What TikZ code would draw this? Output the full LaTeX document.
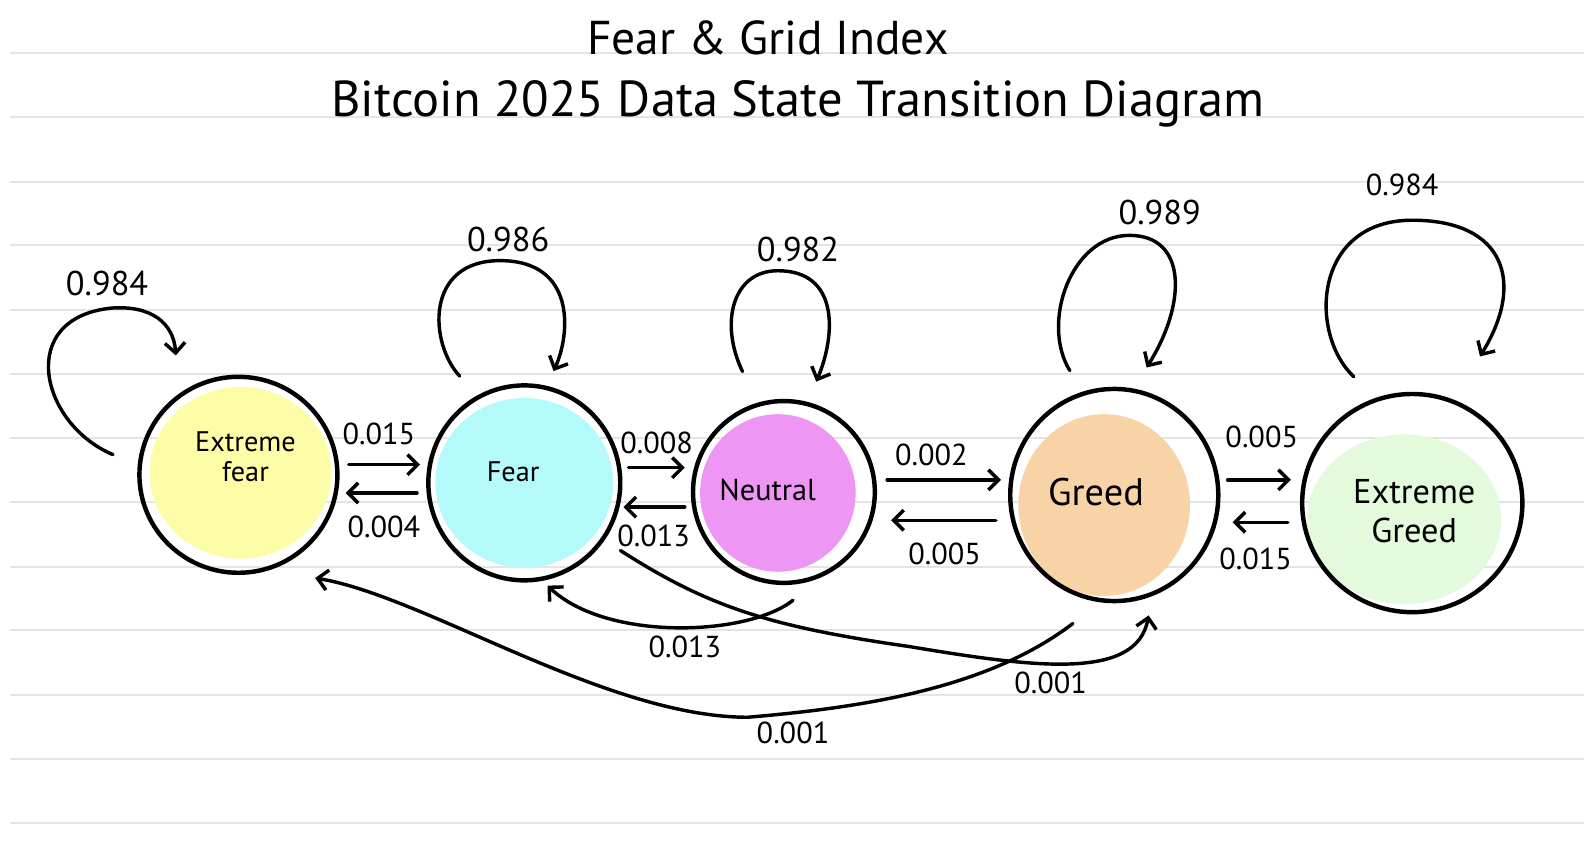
\documentclass[tikz,border=0pt]{standalone}
\usepackage{fontspec}
\setmainfont{PT Sans}
\usetikzlibrary{arrows.meta,shapes.geometric,calc}
\definecolor{ruleGray}{RGB}{228,228,228}
\definecolor{cEF}{HTML}{FDFDA8}
\definecolor{cF}{HTML}{B4FAFA}
\definecolor{cN}{HTML}{EE96F4}
\definecolor{cG}{HTML}{F7D3A5}
\definecolor{cEG}{HTML}{E3FBDC}
\begin{document}
\begin{tikzpicture}[x=0.5pt,y=-0.5pt,
  state/.style={ellipse, draw=black, line width=2.2pt, inner sep=0pt},
  blob/.style n args={5}{path picture={\fill[#1] ([shift={(#2,#3)}]path picture bounding box.center) ellipse [x radius=#4, y radius=#5];}},
  arr/.style={line width=1.7pt, line cap=round, -{Straight Barb[length=5pt,width=10pt,line width=1.7pt]}},
  lbl/.style={font=\fontsize{15}{18}\selectfont, inner sep=1pt},
  slbl/.style={font=\fontsize{17}{20}\selectfont, inner sep=1pt},
  ntext/.style={align=center, inner sep=0pt},
  rule/.style={draw=ruleGray, line width=1pt}]
\useasboundingbox[fill=white] (0,0) rectangle (1568,833);
\foreach \yy in {52,116,180,243,307,370,434,497,561,624,688,751,815}
  \draw[rule] (10,\yy) -- (1568,\yy);

% titles
\node[font=\fontsize{23.5}{26}\selectfont] (t1) at (760,38) {Fear \& Grid Index};
\node[font=\fontsize{25}{28}\selectfont] (t2) at (790,103) {Bitcoin 2025 Data State Transition Diagram};

% states
\node[state, minimum width=98pt, minimum height=97pt, blob={cEF}{2}{-2}{90}{85}] (ef) at (236,470) {};
\node[state, minimum width=95pt, minimum height=96.5pt, blob={cF}{0}{0}{88}{84}] (f) at (519,478) {};
\node[state, minimum width=90pt, minimum height=90pt, blob={cN}{-6}{1}{77}{78}] (n) at (776,487) {};
\node[state, minimum width=103pt, minimum height=105pt, blob={cG}{-10}{10}{85}{90}] (g) at (1103,490) {};
\node[state, minimum width=109pt, minimum height=108pt, blob={cEG}{-8}{16}{96}{84}] (eg) at (1398,498) {};

\node[ntext, font=\fontsize{14}{15}\selectfont] (eft) at (243,452) {Extreme\\fear};
\node[ntext, font=\fontsize{14}{16}\selectfont] (ft) at (508,467) {Fear};
\node[ntext, font=\fontsize{15}{17}\selectfont] (nt) at (760,485) {Neutral};
\node[ntext, font=\fontsize{19}{21}\selectfont] (gt) at (1085,487) {Greed};
\node[ntext, font=\fontsize{17}{19}\selectfont] (egt) at (1400,506) {Extreme\\Greed};

% horizontal transitions
\draw[arr] ([shift={(9,-10)}]ef.east) -- ([shift={(-6,-18)}]f.west);
\draw[arr] ([shift={(-9,10)}]f.west) -- ([shift={(6,18)}]ef.east);
\draw[arr] ([shift={(6,-15)}]f.east) -- ([shift={(-6,-24)}]n.west);
\draw[arr] ([shift={(-6,15)}]n.west) -- ([shift={(1,24)}]f.east);
\draw[arr] ([shift={(10,-12)}]n.east) -- ([shift={(-7,-15)}]g.west);
\draw[arr] ([shift={(-12,25)}]g.west) -- ([shift={(14,28)}]n.east);
\draw[arr] ([shift={(7,-15)}]g.east) -- ([shift={(-9,-23)}]eg.west);
\draw[arr] ([shift={(-12,19)}]eg.west) -- ([shift={(12,27)}]g.east);

\node[lbl] (l1) at (375,430) {0.015};
\node[lbl] (l2) at (380,522) {0.004};
\node[lbl] (l3) at (650,438) {0.008};
\node[lbl] (l4) at (647,530) {0.013};
\node[lbl] (l5) at (922,450) {0.002};
\node[lbl] (l6) at (935,548) {0.005};
\node[lbl] (l7) at (1249,432) {0.005};
\node[lbl] (l8) at (1243,553) {0.015};

% self loops
\draw[arr] ([shift={(-24,-20)}]ef.west) .. controls (40,420) and (15,315) .. (110,305) .. controls (150,302) and (172,320) .. ([shift={(-62,-19)}]ef.north);
\draw[arr] ([shift={(-64,-7)}]f.north) .. controls (425,340) and (420,258) .. (495,258) .. controls (570,258) and (565,330) .. ([shift={(29,-12)}]f.north);
\draw[arr] ([shift={(-41,-27)}]n.north) .. controls (712,320) and (725,268) .. (770,268) .. controls (830,268) and (828,330) .. ([shift={(32,-17)}]n.north);
\draw[arr] ([shift={(-44,-16)}]g.north) .. controls (1030,320) and (1060,233) .. (1118,233) .. controls (1175,233) and (1175,300) .. ([shift={(32,-19)}]g.north);
\draw[arr] ([shift={(-58,-15)}]eg.north) .. controls (1295,330) and (1300,218) .. (1398,218) .. controls (1490,218) and (1510,280) .. ([shift={(67,-35)}]eg.north);

\node[slbl] (s1) at (106,281) {0.984};
\node[slbl] (s2) at (503,237) {0.986};
\node[slbl] (s3) at (790,247) {0.982};
\node[slbl] (s4) at (1148,210) {0.989};
\node[lbl] (s5) at (1388,183) {0.984};

% long transitions
\draw[arr] ([shift={(9,15)}]n.south) .. controls (740,630) and (600,635) .. ([shift={(23,3)}]f.south);
\draw[arr] ([shift={(-2,67)}]f.east) .. controls (700,600) and (760,620) .. (900,640) .. controls (1020,660) and (1125,675) .. ([shift={(34,12)}]g.south);
\draw[arr] ([shift={(-41,20)}]g.south) .. controls (980,680) and (860,700) .. (740,710) .. controls (600,710) and (420,590) .. ([shift={(76,3)}]ef.south);

\node[lbl] (l9) at (678,640) {0.013};
\node[lbl] (l10) at (1040,676) {0.001};
\node[lbl] (l11) at (785,725) {0.001};
\end{tikzpicture}
\end{document}
